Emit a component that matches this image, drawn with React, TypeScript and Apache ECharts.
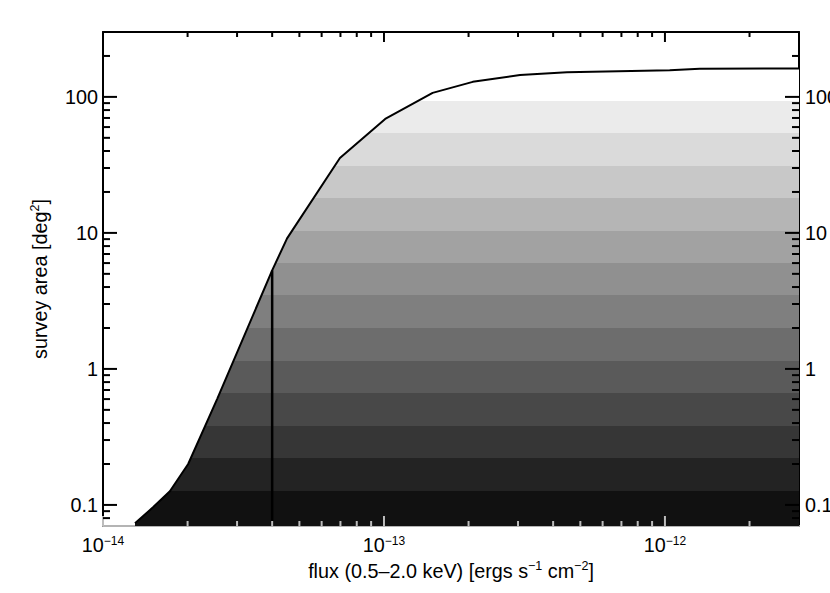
import React, { useEffect, useRef } from 'react';
import * as echarts from 'echarts';

// Axis ranges
const xMin = 1e-14;
const xMax = 3e-12;
const yMin = 0.07;
const yMax = 300;

// Survey area curve (flux limit vs. area)
const fluxValues = [1.3e-14, 1.51e-14, 1.73e-14, 2.01e-14, 2.55e-14, 4.0e-14, 4.52e-14, 6.97e-14, 1.01e-13, 1.49e-13, 2.07e-13, 3.05e-13, 4.48e-13, 1.04e-12, 1.33e-12, 3.0e-12];
const areaValues = [0.0734, 0.0964, 0.126, 0.2, 0.603, 5.3, 9.12, 35.5, 68.9, 107, 129, 145, 152, 157, 161, 162];

// Vertical marker line
const limitFlux = 4.0e-14;
const limitArea = 5.3;

// Horizontal grey band edges (upper edge of each band) and colours (bottom to top)
const bandEdges = [0.126, 0.221, 0.381, 0.668, 1.15, 2.01, 3.47, 5.97, 10.4, 18.0, 31.0, 54.3, 93.4];
const bandColors = ['#111111', '#232323', '#363636', '#484848', '#5a5a5a', '#6d6d6d', '#7f7f7f', '#909090', '#a2a2a2', '#b5b5b5', '#c8c8c8', '#dadada', '#ebebeb'];

// Ticks
const xMajorTicks = [1e-14, 1e-13, 1e-12];
const xMinorTicks = [2e-14, 3e-14, 4e-14, 5e-14, 6e-14, 7e-14, 8e-14, 9e-14, 2e-13, 3e-13, 4e-13, 5e-13, 6e-13, 7e-13, 8e-13, 9e-13, 2e-12];
const yMajorTicks = [0.1, 1, 10, 100];
const yMinorTicks = [0.08, 0.09, 0.2, 0.3, 0.4, 0.5, 0.6, 0.7, 0.8, 0.9, 2, 3, 4, 5, 6, 7, 8, 9, 20, 30, 40, 50, 60, 70, 80, 90, 200];

const xTitle = '{a|flux (0.5–2.0 keV) [ergs s}{s|−1}{a| cm}{s|−2}{a|]}';
const yTitle = '{a|survey area [deg}{s|2}{a|]}';

const FONT = '"Liberation Sans", Arial, Helvetica, sans-serif';
const FS = 19.8;

function baseAxis(min: number, max: number, extra: any) {
  return {
    type: 'log',
    logBase: 10,
    min,
    max,
    axisTick: { show: false },
    axisLabel: { show: false },
    splitLine: { show: false },
    ...extra,
  };
}

const yLabelFormatter = (v: number) => (v >= 1 ? String(Math.round(v)) : String(Number(v.toPrecision(3))));
const xLabelFormatter = (v: number) => {
  const e = Math.round(Math.log10(v));
  return '{b|10}{s|' + (e < 0 ? '−' : '') + Math.abs(e) + '}';
};

// Frame tick marks: the position along the axis comes from the chart's log scale
// (via an interior reference value), the frame edge from the coordinate system rect.
function xTickSeries(vals: number[], len: number) {
  return {
    type: 'custom',
    data: vals.map((v) => [v, 1]),
    z: 50,
    renderItem: (params: any, api: any) => {
      const p = api.coord([api.value(0), api.value(1)]);
      const cs = params.coordSys;
      const bottom = cs.y + cs.height;
      const top = cs.y;
      return {
        type: 'group',
        children: [
          { type: 'line', shape: { x1: p[0], y1: bottom, x2: p[0], y2: bottom - len }, style: { stroke: '#bdbdbd', lineWidth: 2 } },
          { type: 'line', shape: { x1: p[0], y1: top, x2: p[0], y2: top + len }, style: { stroke: '#000', lineWidth: 2 } },
        ],
      };
    },
  };
}

function yTickSeries(vals: number[], len: number) {
  return {
    type: 'custom',
    data: vals.map((v) => [1e-13, v]),
    z: 50,
    renderItem: (params: any, api: any) => {
      const p = api.coord([api.value(0), api.value(1)]);
      const cs = params.coordSys;
      const left = cs.x;
      const right = cs.x + cs.width;
      return {
        type: 'group',
        children: [
          { type: 'line', shape: { x1: left, y1: p[1], x2: left + len, y2: p[1] }, style: { stroke: '#000', lineWidth: 2 } },
          { type: 'line', shape: { x1: right, y1: p[1], x2: right - len, y2: p[1] }, style: { stroke: '#000', lineWidth: 2 } },
        ],
      };
    },
  };
}

export default function App() {
  const ref = useRef<HTMLDivElement>(null);
  useEffect(() => {
    const chart = echarts.init(ref.current!, null, { renderer: 'svg' });

    const pieces: any[] = [];
    bandColors.forEach((c, i) => {
      if (i === 0) pieces.push({ lt: bandEdges[0], color: c });
      else pieces.push({ gte: bandEdges[i - 1], lt: bandEdges[i], color: c });
    });
    pieces.push({ gte: bandEdges[bandEdges.length - 1], color: '#ffffff' });

    const yLabel = (margin: number) => ({
      show: true,
      customValues: yMajorTicks,
      margin,
      fontSize: FS,
      color: '#000',
      fontFamily: FONT,
      formatter: yLabelFormatter,
    });

    const option: any = {
      animation: false,
      backgroundColor: '#ffffff',
      textStyle: { fontFamily: FONT, color: '#000' },
      grid: { left: 103, right: 31, top: 32, bottom: 67, outerBoundsMode: 'none' },
      xAxis: [
        baseAxis(xMin, xMax, {
          position: 'bottom',
          axisLine: { show: true, onZero: false, lineStyle: { color: '#b4b4b4', width: 2 } },
          axisLabel: {
            show: true,
            customValues: xMajorTicks,
            margin: 9,
            formatter: xLabelFormatter,
            rich: {
              b: { fontSize: FS, fontFamily: FONT, color: '#000' },
              s: { fontSize: 12, fontFamily: FONT, color: '#000', verticalAlign: 'top' },
            },
          },
          name: xTitle,
          nameLocation: 'middle',
          nameGap: 28,
          nameTextStyle: {
            rich: {
              a: { fontSize: FS, fontFamily: FONT, color: '#000', lineHeight: 23 },
              s: { fontSize: 12.5, fontFamily: FONT, color: '#000', verticalAlign: 'top' },
            },
          },
        }),
        baseAxis(xMin, xMax, {
          position: 'top',
          axisLine: { show: true, onZero: false, lineStyle: { color: '#000', width: 2 } },
        }),
      ],
      yAxis: [
        baseAxis(yMin, yMax, {
          position: 'left',
          axisLine: { show: true, onZero: false, lineStyle: { color: '#000', width: 2 } },
          axisLabel: yLabel(5),
          name: yTitle,
          nameLocation: 'middle',
          nameRotate: 90,
          nameGap: 52,
          nameTextStyle: {
            rich: {
              a: { fontSize: FS, fontFamily: FONT, color: '#000', lineHeight: 23 },
              s: { fontSize: 12.5, fontFamily: FONT, color: '#000', verticalAlign: 'top' },
            },
          },
        }),
        baseAxis(yMin, yMax, {
          position: 'right',
          axisLine: { show: true, onZero: false, lineStyle: { color: '#000', width: 2 } },
          axisLabel: yLabel(6),
        }),
      ],
      visualMap: {
        type: 'piecewise',
        show: false,
        dimension: 1,
        seriesIndex: 0,
        pieces,
      },
      series: [
        {
          type: 'line',
          data: fluxValues.map((f, i) => [f, areaValues[i]]),
          symbol: 'none',
          lineStyle: { color: '#000', width: 2 },
          areaStyle: { opacity: 1, origin: 'start' },
          z: 2,
        },
        {
          type: 'line',
          data: [[limitFlux, yMin], [limitFlux, limitArea]],
          symbol: 'none',
          lineStyle: { color: '#000', width: 2.5 },
          z: 3,
        },
        xTickSeries(xMajorTicks, 10),
        xTickSeries(xMinorTicks, 5),
        yTickSeries(yMajorTicks, 14),
        yTickSeries(yMinorTicks, 7),
      ],
    };
    try {
      chart.setOption(option);
    } catch (e) {
      /* keep whatever was drawn */
    }
    return () => chart.dispose();
  }, []);
  return <div ref={ref} style={{ position: 'fixed', left: 0, top: 0, width: 830, height: 593, background: '#fff' }} />;
}
